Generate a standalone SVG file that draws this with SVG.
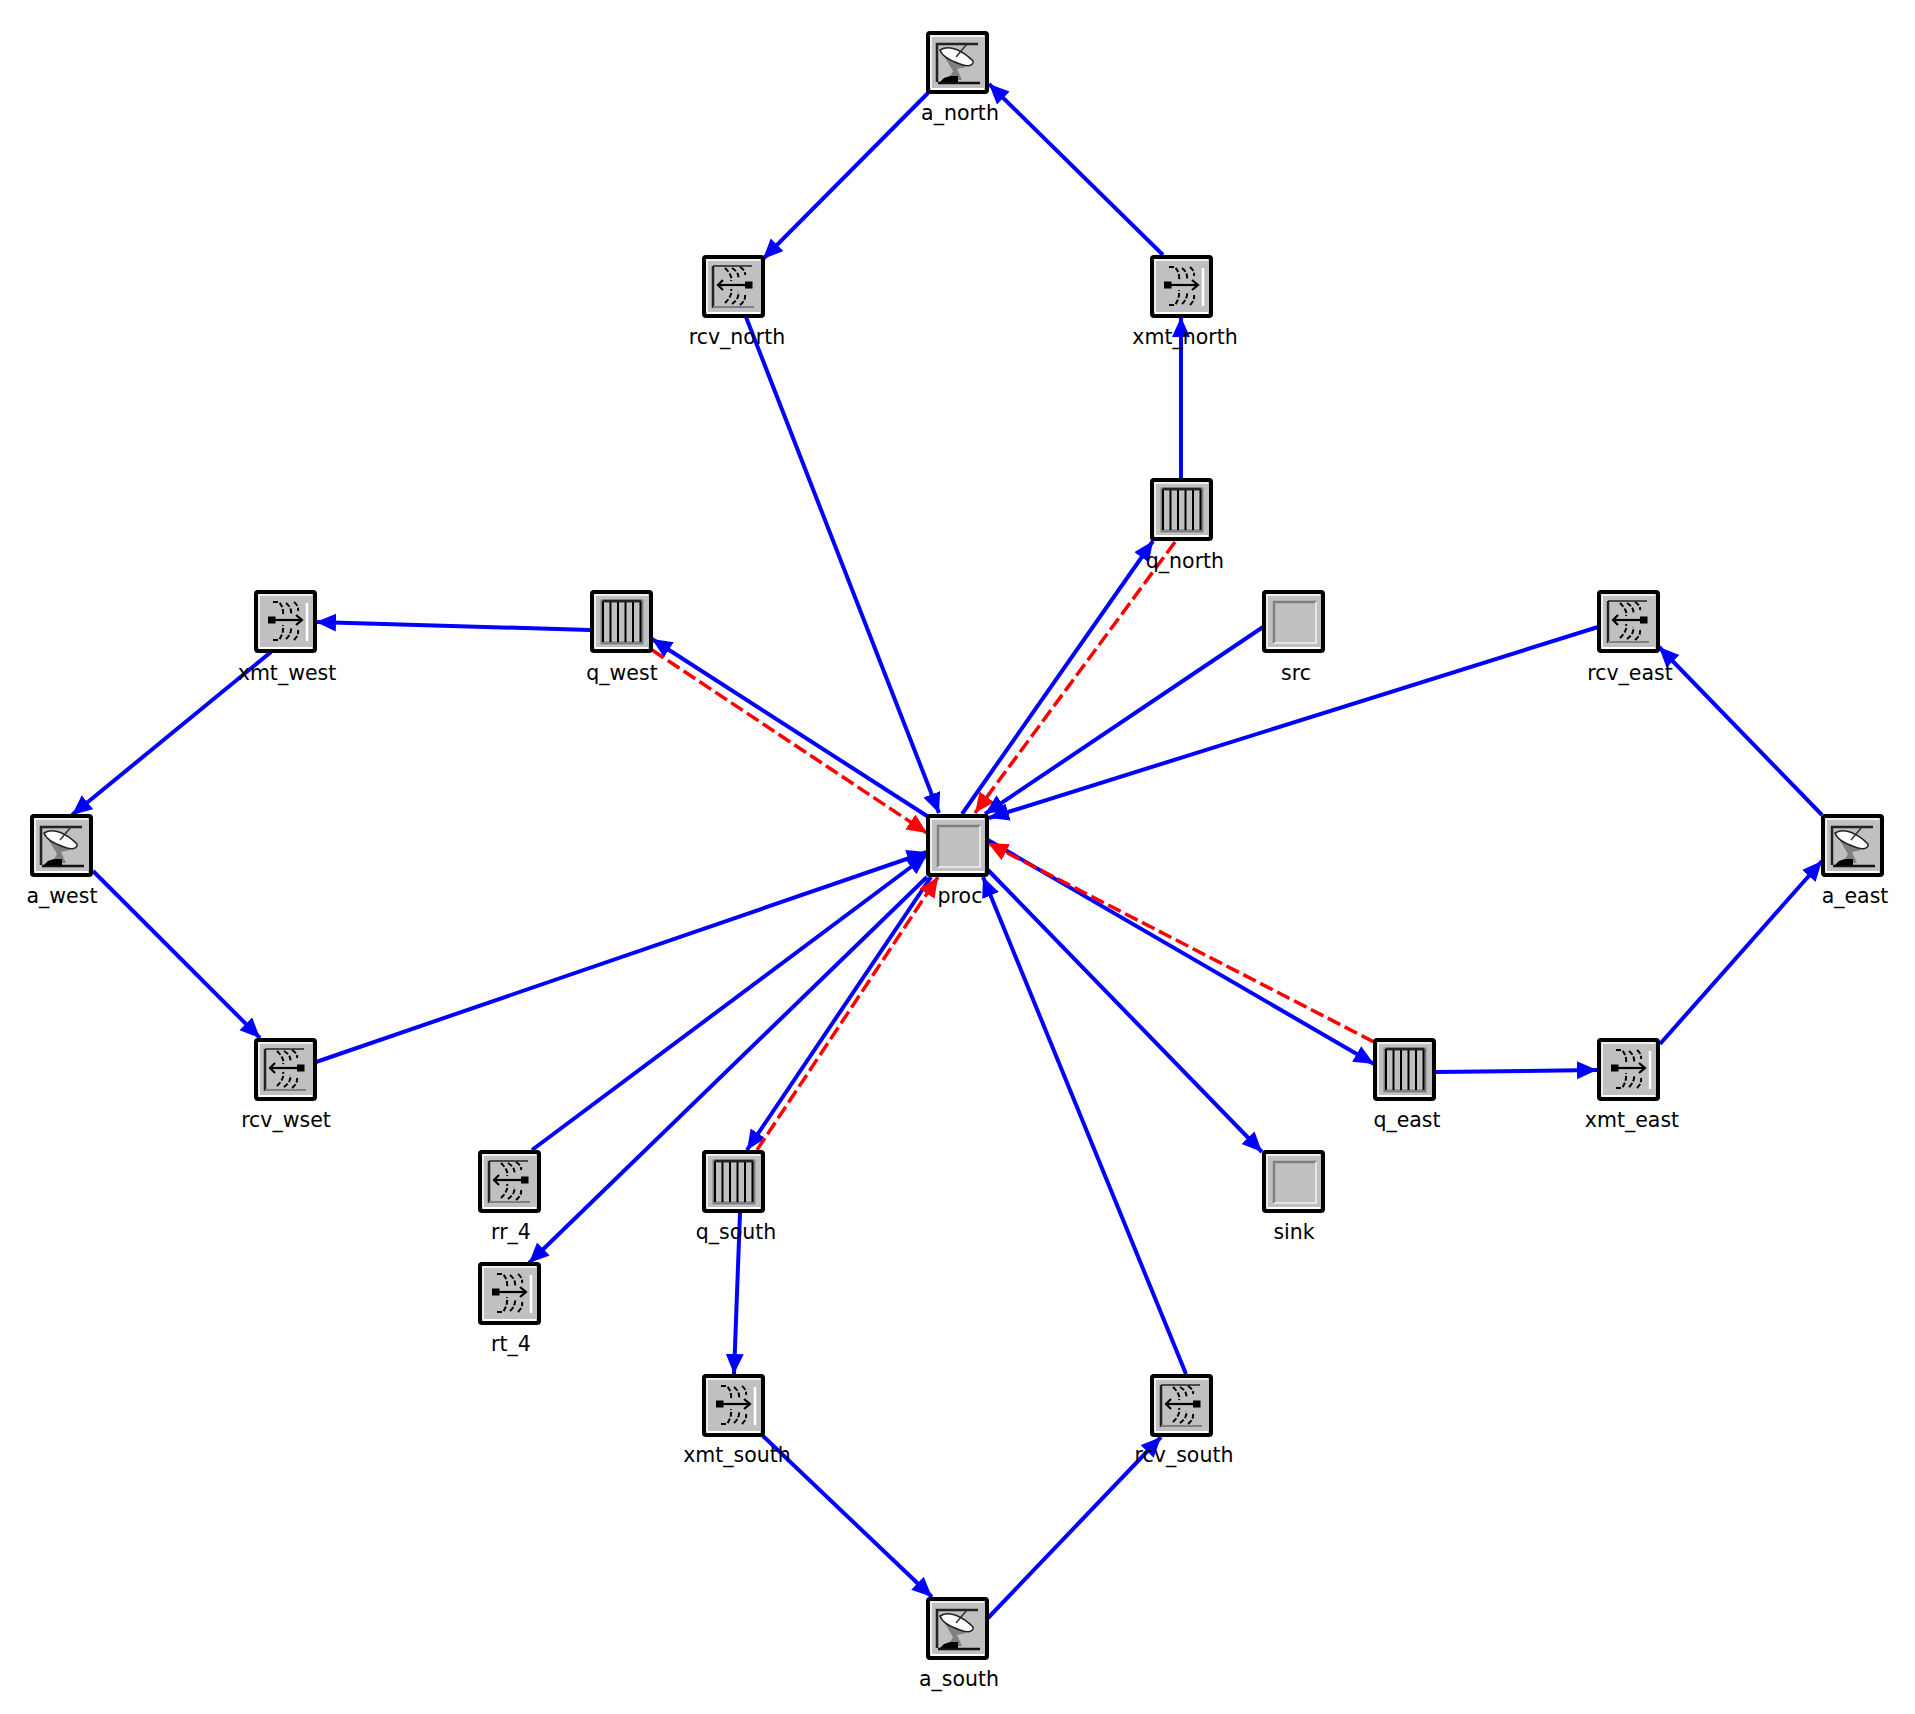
<svg xmlns="http://www.w3.org/2000/svg" width="1915" height="1714" viewBox="0 0 1915 1714">
<style>
.l{font-family:"DejaVu Sans",sans-serif;font-size:20.5px;fill:#000;text-anchor:middle}
.b{fill:none;stroke:#0000ff;stroke-width:4;marker-end:url(#ab)}
.r{fill:none;stroke:#ff0000;stroke-width:3.5;stroke-dasharray:14 5;marker-end:url(#ar)}
.w{fill:none;stroke:#000;stroke-width:2;stroke-dasharray:5 2}
</style>
<defs>
<marker id="ab" markerUnits="userSpaceOnUse" markerWidth="22" markerHeight="20" refX="20" refY="9" orient="auto"><path d="M0 0L20 9L0 18Z" fill="#0000ff"/></marker>
<marker id="ar" markerUnits="userSpaceOnUse" markerWidth="22" markerHeight="20" refX="20" refY="9" orient="auto"><path d="M0 0L20 9L0 18Z" fill="#ff0000"/></marker>
<g id="frame">
<rect x="2" y="2" width="59" height="59" rx="2" fill="#c0c0c0" stroke="#000" stroke-width="4"/>
<path d="M5 57V5H58" fill="none" stroke="#eee" stroke-width="2"/>
<path d="M5 58H58" fill="none" stroke="#fff" stroke-width="2"/>
</g>
<g id="plain"><use href="#frame"/>
<path d="M12 53V12H54" fill="none" stroke="#808080" stroke-width="2.500"/>
<path d="M12 53H54V12" fill="none" stroke="#f2f2f2" stroke-width="1.500"/>
</g>
<g id="queue"><use href="#frame"/>
<rect x="12" y="11" width="40" height="42" fill="#c0c0c0" stroke="#808080" stroke-width="3"/>
<path d="M13 11V52M20.500 11V52M28 11V52M35.500 11V52M43 11V52M50.500 11V52" stroke="#000" stroke-width="2" fill="none"/>
<path d="M13 11H51" stroke="#222" stroke-width="2.500"/>
</g>
<g id="dish"><use href="#frame"/>
<path d="M11 51V13H52" fill="none" stroke="#222" stroke-width="2.500"/>
<path d="M12 52H54" fill="none" stroke="#111" stroke-width="2.500"/>
<path d="M15 20L27 40L22 49H36L31 38L40 36Z" fill="#808080"/>
<path d="M14 51H32V45H24L18 47Z" fill="#000"/>
<path d="M14 19C24 13 37 20 47 30C48 35 41 36 34 33C25 30 16 25 14 19Z" fill="#fff" stroke="#222" stroke-width="1.500"/>
<path d="M30 26L41 13" stroke="#333" stroke-width="1.500"/>
</g>
<g id="rcv"><use href="#frame"/>
<path d="M11 11V53" stroke="#222" stroke-width="2.500"/>
<path d="M11 52H52" stroke="#808080" stroke-width="2"/>
<path d="M11 11H50" stroke="#222" stroke-width="1.500"/>
<path d="M16 30H45" stroke="#000" stroke-width="2.200"/><rect x="43" y="26.500" width="7.500" height="7" fill="#000"/>
<path d="M21 25L16 30L21 35" fill="none" stroke="#000" stroke-width="2.200"/>
<path class="w" d="M23 13Q31 21 29 26M30 13Q38 18 36 24M38 12Q44 16 43 20"/>
<path class="w" d="M23 48Q31 40 29 34M30 49Q38 43 36 37M38 50Q44 45 43 40"/>
</g>
<g id="xmt"><use href="#frame"/>
<path d="M53 13V51" stroke="#fff" stroke-width="2.500"/>
<rect x="14" y="26.500" width="7.500" height="7" fill="#000"/>
<path d="M17 30H48" stroke="#000" stroke-width="2.200"/>
<path d="M42 25L48 30L42 35" fill="none" stroke="#000" stroke-width="2.200"/>
<path class="w" d="M19 12H25Q30 18 29 25M32 13Q38 18 37 24M40 12Q45 16 44 21"/>
<path class="w" d="M19 50H25Q30 43 29 35M32 49Q38 43 37 37M40 50Q45 45 44 40"/>
</g>
</defs>
<rect width="1915" height="1714" fill="#fff"/>
<g id="connectors">
<path class="b" d="M928 93L763 259"/>
<path class="b" d="M1163 255L989 84"/>
<path class="b" d="M1181 479V317"/>
<path class="b" d="M746 317L939 813"/>
<path class="b" d="M962 814L1153 541"/>
<path class="r" d="M1175 542L975 813"/>
<path class="b" d="M1263 627L985 814"/>
<path class="b" d="M1598 627L989 818"/>
<path class="b" d="M1822 815L1659 647"/>
<path class="b" d="M1660 1044L1822 861"/>
<path class="b" d="M1436 1072L1597 1070"/>
<path class="b" d="M988 840L1374 1064"/>
<path class="r" d="M1374 1042L988 843"/>
<path class="b" d="M988 870L1262 1152"/>
<path class="b" d="M1186 1374L983 877"/>
<path class="b" d="M988 1618L1161 1437"/>
<path class="b" d="M763 1436L932 1597"/>
<path class="b" d="M740 1213L734 1374"/>
<path class="b" d="M931 877L747 1150"/>
<path class="r" d="M757 1150L938 877"/>
<path class="b" d="M532 1150L927 855"/>
<path class="b" d="M927 877L529 1263"/>
<path class="b" d="M316 1062L927 852"/>
<path class="b" d="M93 871L260 1038"/>
<path class="b" d="M271 652L72 815"/>
<path class="b" d="M590 630L316 622"/>
<path class="b" d="M927 816L652 639"/>
<path class="r" d="M652 650L927 833"/>
</g>
<g id="a_north"><use href="#dish" x="926" y="31"/><text class="l" x="960" y="120">a_north</text></g>
<g id="rcv_north"><use href="#rcv" x="702" y="255"/><text class="l" x="737" y="344">rcv_north</text></g>
<g id="xmt_north"><use href="#xmt" x="1150" y="255"/><text class="l" x="1185" y="344">xmt_north</text></g>
<g id="q_north"><use href="#queue" x="1150" y="478"/><text class="l" x="1185" y="568">q_north</text></g>
<g id="src"><use href="#plain" x="1262" y="590"/><text class="l" x="1296" y="680">src</text></g>
<g id="q_west"><use href="#queue" x="590" y="590"/><text class="l" x="622" y="680">q_west</text></g>
<g id="xmt_west"><use href="#xmt" x="254" y="590"/><text class="l" x="287" y="680">xmt_west</text></g>
<g id="rcv_east"><use href="#rcv" x="1597" y="590"/><text class="l" x="1630" y="680">rcv_east</text></g>
<g id="a_west"><use href="#dish" x="30" y="814"/><text class="l" x="62" y="903">a_west</text></g>
<g id="proc"><use href="#plain" x="926" y="814"/><text class="l" x="960" y="903">proc</text></g>
<g id="a_east"><use href="#dish" x="1821" y="814"/><text class="l" x="1855" y="903">a_east</text></g>
<g id="rcv_wset"><use href="#rcv" x="254" y="1038"/><text class="l" x="286" y="1127">rcv_wset</text></g>
<g id="q_east"><use href="#queue" x="1373" y="1038"/><text class="l" x="1407" y="1127">q_east</text></g>
<g id="xmt_east"><use href="#xmt" x="1597" y="1038"/><text class="l" x="1632" y="1127">xmt_east</text></g>
<g id="rr_4"><use href="#rcv" x="478" y="1150"/><text class="l" x="511" y="1239">rr_4</text></g>
<g id="q_south"><use href="#queue" x="702" y="1150"/><text class="l" x="736" y="1239">q_south</text></g>
<g id="sink"><use href="#plain" x="1262" y="1150"/><text class="l" x="1294" y="1239">sink</text></g>
<g id="rt_4"><use href="#xmt" x="478" y="1262"/><text class="l" x="511" y="1351">rt_4</text></g>
<g id="xmt_south"><use href="#xmt" x="702" y="1374"/><text class="l" x="737" y="1462">xmt_south</text></g>
<g id="rcv_south"><use href="#rcv" x="1150" y="1374"/><text class="l" x="1184" y="1462">rcv_south</text></g>
<g id="a_south"><use href="#dish" x="926" y="1597"/><text class="l" x="959" y="1686">a_south</text></g>
</svg>
